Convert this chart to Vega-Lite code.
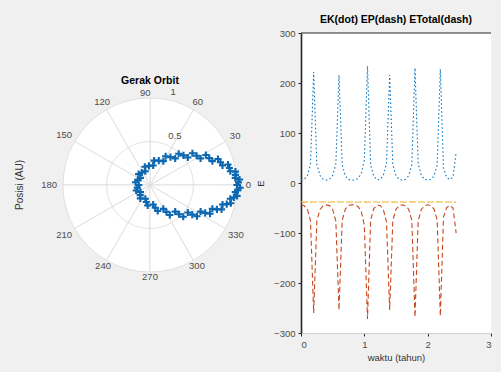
{
  "$schema": "https://vega.github.io/schema/vega-lite/v6.json",
  "background": "#f0f0f0",
  "padding": {"left": 0, "top": 14, "right": 9, "bottom": 10},
  "spacing": 1,
  "bounds": "flush",
  "config": {
    "view": {"stroke": null},
    "font": "Liberation Sans",
    "axis": {"labelFont": "Liberation Sans", "titleFont": "Liberation Sans", "labelColor": "#4d4d4d", "titleColor": "#333333", "labelFontSize": 9.5, "titleFontSize": 9.5, "titleFontWeight": "normal"}
  },
  "datasets": {
    "energy": [
      {"t": 0, "EK": 5.6, "EP": -43.6, "ET": -38},
      {"t": 0.05, "EK": 7.4, "EP": -45.6, "ET": -38.2},
      {"t": 0.1, "EK": 14.5, "EP": -52.3, "ET": -37.8},
      {"t": 0.15, "EK": 37.6, "EP": -75.8, "ET": -38.2},
      {"t": 0.2, "EK": 222, "EP": -260, "ET": -38},
      {"t": 0.25, "EK": 38, "EP": -76.1, "ET": -38.1},
      {"t": 0.3, "EK": 15, "EP": -52.9, "ET": -37.9},
      {"t": 0.35, "EK": 7.5, "EP": -45.5, "ET": -38},
      {"t": 0.4, "EK": 5.6, "EP": -43.7, "ET": -38.1},
      {"t": 0.45, "EK": 7.3, "EP": -45.2, "ET": -37.9},
      {"t": 0.5, "EK": 14.8, "EP": -52.8, "ET": -38},
      {"t": 0.55, "EK": 38, "EP": -76.2, "ET": -38.2},
      {"t": 0.6, "EK": 216, "EP": -254, "ET": -38},
      {"t": 0.65, "EK": 37, "EP": -74.9, "ET": -37.9},
      {"t": 0.7, "EK": 14, "EP": -52.1, "ET": -38.1},
      {"t": 0.75, "EK": 7, "EP": -45, "ET": -38},
      {"t": 0.8, "EK": 5.5, "EP": -43.5, "ET": -38},
      {"t": 0.85, "EK": 6, "EP": -44.1, "ET": -38.1},
      {"t": 0.9, "EK": 9, "EP": -46.9, "ET": -37.9},
      {"t": 0.95, "EK": 18, "EP": -56, "ET": -38},
      {"t": 1.0, "EK": 46, "EP": -84.2, "ET": -38.2},
      {"t": 1.05, "EK": 234, "EP": -272, "ET": -38},
      {"t": 1.1, "EK": 36, "EP": -73.9, "ET": -37.9},
      {"t": 1.15, "EK": 13, "EP": -51.1, "ET": -38.1},
      {"t": 1.2, "EK": 6.5, "EP": -44.5, "ET": -38},
      {"t": 1.25, "EK": 7, "EP": -45, "ET": -38},
      {"t": 1.3, "EK": 15, "EP": -53.1, "ET": -38.1},
      {"t": 1.35, "EK": 40, "EP": -77.9, "ET": -37.9},
      {"t": 1.4, "EK": 216, "EP": -254, "ET": -38},
      {"t": 1.45, "EK": 37, "EP": -75.2, "ET": -38.2},
      {"t": 1.5, "EK": 14.5, "EP": -52.5, "ET": -38},
      {"t": 1.55, "EK": 7.4, "EP": -45.3, "ET": -37.9},
      {"t": 1.6, "EK": 5.6, "EP": -43.6, "ET": -38},
      {"t": 1.65, "EK": 7.4, "EP": -45.5, "ET": -38.1},
      {"t": 1.7, "EK": 14.5, "EP": -52.5, "ET": -38},
      {"t": 1.75, "EK": 37, "EP": -74.8, "ET": -37.8},
      {"t": 1.8, "EK": 230, "EP": -268, "ET": -38},
      {"t": 1.85, "EK": 38, "EP": -76.1, "ET": -38.1},
      {"t": 1.9, "EK": 15, "EP": -52.9, "ET": -37.9},
      {"t": 1.95, "EK": 7.5, "EP": -45.5, "ET": -38},
      {"t": 2.0, "EK": 5.6, "EP": -43.6, "ET": -38},
      {"t": 2.05, "EK": 7.2, "EP": -45.3, "ET": -38.1},
      {"t": 2.1, "EK": 14, "EP": -52, "ET": -38},
      {"t": 2.15, "EK": 36, "EP": -73.8, "ET": -37.8},
      {"t": 2.2, "EK": 228, "EP": -266, "ET": -38},
      {"t": 2.25, "EK": 30, "EP": -68.1, "ET": -38.1},
      {"t": 2.3, "EK": 11, "EP": -49, "ET": -38},
      {"t": 2.35, "EK": 7, "EP": -44.9, "ET": -37.9},
      {"t": 2.4, "EK": 12, "EP": -50, "ET": -38},
      {"t": 2.45, "EK": 62, "EP": -100.2, "ET": -38.2}
    ],
    "orbit": [
      {"x": 1.01, "y": 0}, {"x": 0.991, "y": 0.083}, {"x": 0.934, "y": 0.16}, {"x": 0.843, "y": 0.226},
      {"x": 0.725, "y": 0.277}, {"x": 0.588, "y": 0.309}, {"x": 0.44, "y": 0.32}, {"x": 0.293, "y": 0.309},
      {"x": 0.155, "y": 0.277}, {"x": 0.037, "y": 0.226}, {"x": -0.054, "y": 0.16}, {"x": -0.111, "y": 0.083},
      {"x": -0.13, "y": 0}, {"x": -0.111, "y": -0.083}, {"x": -0.054, "y": -0.16}, {"x": 0.037, "y": -0.226},
      {"x": 0.155, "y": -0.277}, {"x": 0.293, "y": -0.309}, {"x": 0.44, "y": -0.32}, {"x": 0.588, "y": -0.309},
      {"x": 0.725, "y": -0.277}, {"x": 0.843, "y": -0.226}, {"x": 0.934, "y": -0.16}, {"x": 0.991, "y": -0.083},
      {"x": 1.028, "y": 0.03}, {"x": 0.994, "y": 0.118}, {"x": 0.923, "y": 0.198}, {"x": 0.819, "y": 0.264},
      {"x": 0.689, "y": 0.313}, {"x": 0.542, "y": 0.34}, {"x": 0.389, "y": 0.344}, {"x": 0.238, "y": 0.324},
      {"x": 0.102, "y": 0.283}, {"x": -0.012, "y": 0.222}, {"x": -0.095, "y": 0.146}, {"x": -0.141, "y": 0.06},
      {"x": -0.148, "y": -0.03}, {"x": -0.114, "y": -0.118}, {"x": -0.043, "y": -0.198}, {"x": 0.061, "y": -0.264},
      {"x": 0.191, "y": -0.313}, {"x": 0.338, "y": -0.34}, {"x": 0.491, "y": -0.344}, {"x": 0.642, "y": -0.324},
      {"x": 0.778, "y": -0.283}, {"x": 0.892, "y": -0.222}, {"x": 0.975, "y": -0.146}, {"x": 1.021, "y": -0.06},
      {"x": 1.041, "y": 0.064}, {"x": 0.993, "y": 0.156}, {"x": 0.907, "y": 0.238}, {"x": 0.79, "y": 0.303},
      {"x": 0.649, "y": 0.348}, {"x": 0.493, "y": 0.369}, {"x": 0.334, "y": 0.364}, {"x": 0.182, "y": 0.335},
      {"x": 0.048, "y": 0.283}, {"x": -0.06, "y": 0.212}, {"x": -0.133, "y": 0.127}, {"x": -0.168, "y": 0.032},
      {"x": -0.161, "y": -0.064}, {"x": -0.113, "y": -0.156}, {"x": -0.027, "y": -0.238}, {"x": 0.09, "y": -0.303},
      {"x": 0.231, "y": -0.348}, {"x": 0.387, "y": -0.369}, {"x": 0.546, "y": -0.364}, {"x": 0.698, "y": -0.335},
      {"x": 0.832, "y": -0.283}, {"x": 0.94, "y": -0.212}, {"x": 1.013, "y": -0.127}, {"x": 1.048, "y": -0.032}
    ]
  },
  "hconcat": [
    {
      "width": 300,
      "height": 304,
      "view": {"stroke": null},
      "layer": [
        {
          "data": {"values": [
            {"a0": 0, "a1": 30, "r": 1}, {"a0": 30, "a1": 60, "r": 1}, {"a0": 60, "a1": 90, "r": 1},
            {"a0": 90, "a1": 120, "r": 1}, {"a0": 120, "a1": 150, "r": 1}, {"a0": 150, "a1": 180, "r": 1},
            {"a0": 180, "a1": 210, "r": 1}, {"a0": 210, "a1": 240, "r": 1}, {"a0": 240, "a1": 270, "r": 1},
            {"a0": 270, "a1": 300, "r": 1}, {"a0": 300, "a1": 330, "r": 1}, {"a0": 330, "a1": 360, "r": 1}
          ]},
          "mark": {"type": "arc", "fill": "white", "stroke": "#dadada", "strokeWidth": 0.8},
          "encoding": {
            "theta": {"field": "a0", "type": "quantitative", "stack": null, "scale": {"domain": [0, 360], "range": [1.5708, -4.7124]}},
            "theta2": {"field": "a1"},
            "radius": {"field": "r", "type": "quantitative", "scale": {"type": "linear", "domain": [0, 1], "range": [0, 87], "zero": true}}
          }
        },
        {
          "data": {"values": [{"a0": 0, "a1": 360, "r": 0.5}]},
          "mark": {"type": "arc", "fillOpacity": 0, "fill": "white", "stroke": "#dadada", "strokeWidth": 0.8},
          "encoding": {
            "theta": {"field": "a0", "type": "quantitative", "stack": null, "scale": {"domain": [0, 360], "range": [1.5708, -4.7124]}},
            "theta2": {"field": "a1"},
            "radius": {"field": "r", "type": "quantitative", "scale": {"type": "linear", "domain": [0, 1], "range": [0, 87], "zero": true}}
          }
        },
        {
          "data": {"name": "orbit"},
          "mark": {"type": "point", "shape": "M-1,0L1,0M0,-1L0,1", "filled": false, "stroke": "#0d67b0", "strokeWidth": 2.1, "size": 50, "opacity": 1},
          "encoding": {
            "x": {"field": "x", "type": "quantitative", "axis": null, "scale": {"domain": [-1.744, 1.744], "nice": false, "zero": false}},
            "y": {"field": "y", "type": "quantitative", "axis": null, "scale": {"domain": [-1.767, 1.767], "nice": false, "zero": false}}
          }
        },
        {
          "data": {"values": [
            {"txt": "0", "a": 0, "r": 1.13}, {"txt": "30", "a": 30, "r": 1.13}, {"txt": "60", "a": 60, "r": 1.1},
            {"txt": "90", "a": 93, "r": 1.06}, {"txt": "120", "a": 120, "r": 1.1}, {"txt": "150", "a": 150, "r": 1.14},
            {"txt": "180", "a": 180, "r": 1.16}, {"txt": "210", "a": 210, "r": 1.14}, {"txt": "240", "a": 240, "r": 1.08},
            {"txt": "270", "a": 270, "r": 1.06}, {"txt": "300", "a": 300, "r": 1.08}, {"txt": "330", "a": 330, "r": 1.14},
            {"txt": "0.5", "a": 63, "r": 0.63}, {"txt": "1", "a": 76, "r": 1.1}
          ]},
          "mark": {"type": "text", "fontSize": 9.5, "color": "#4d4d4d", "align": "center", "baseline": "middle"},
          "encoding": {
            "text": {"field": "txt"},
            "theta": {"field": "a", "type": "quantitative", "stack": null, "scale": {"domain": [0, 360], "range": [1.5708, -4.7124]}},
            "radius": {"field": "r", "type": "quantitative", "scale": {"type": "linear", "domain": [0, 1], "range": [0, 87], "zero": true}}
          }
        },
        {
          "data": {"values": [{"txt": "Gerak Orbit", "a": 90, "r": 1.2}]},
          "mark": {"type": "text", "fontSize": 10.5, "fontWeight": "bold", "color": "#000000", "align": "center", "baseline": "middle"},
          "encoding": {
            "text": {"field": "txt"},
            "theta": {"field": "a", "type": "quantitative", "stack": null, "scale": {"domain": [0, 360], "range": [1.5708, -4.7124]}},
            "radius": {"field": "r", "type": "quantitative", "scale": {"type": "linear", "domain": [0, 1], "range": [0, 87], "zero": true}}
          }
        },
        {
          "data": {"values": [{"txt": "Posisi (AU)", "a": 180, "r": 1.5}]},
          "mark": {"type": "text", "fontSize": 10, "color": "#333333", "angle": 270, "align": "center", "baseline": "middle"},
          "encoding": {
            "text": {"field": "txt"},
            "theta": {"field": "a", "type": "quantitative", "stack": null, "scale": {"domain": [0, 360], "range": [1.5708, -4.7124]}},
            "radius": {"field": "r", "type": "quantitative", "scale": {"type": "linear", "domain": [0, 1], "range": [0, 87], "zero": true}}
          }
        }
      ]
    },
    {
      "width": 190,
      "height": 300,
      "view": {"fill": "white", "stroke": null},
      "title": {"text": "EK(dot) EP(dash) ETotal(dash)", "fontSize": 10.5, "fontWeight": "bold", "color": "#000000", "offset": 3, "font": "Liberation Sans"},
      "layer": [
        {
          "data": {"name": "energy"},
          "transform": [{"fold": ["EK", "EP", "ET"], "as": ["series", "value"]}],
          "mark": {"type": "line", "strokeWidth": 1.1},
          "encoding": {
            "x": {"field": "t", "type": "quantitative", "title": "waktu (tahun)", "scale": {"domain": [0, 3], "nice": false}, "axis": {"values": [0, 1, 2, 3], "grid": false, "domainColor": "#d0d0d0", "tickColor": "#262626", "tickSize": 3, "labelPadding": 3, "titlePadding": 4}},
            "y": {"field": "value", "type": "quantitative", "title": "E", "scale": {"domain": [-300, 300], "nice": false}, "axis": {"values": [-300, -200, -100, 0, 100, 200, 300], "grid": false, "domainColor": "#262626", "domainWidth": 1.6, "tickColor": "#262626", "tickSize": 3, "labelPadding": 3, "titlePadding": 8}},
            "color": {"field": "series", "type": "nominal", "legend": null, "scale": {"domain": ["EK", "EP", "ET"], "range": ["#0072BD", "#C8471A", "#EDB120"]}},
            "strokeDash": {"field": "series", "type": "nominal", "legend": null, "scale": {"domain": ["EK", "EP", "ET"], "range": [[1.5, 2.5], [5, 3], [7, 2]]}}
          }
        },
        {
          "data": {"values": [{"v": 300}]},
          "mark": {"type": "rule", "color": "#262626", "strokeWidth": 1.2},
          "encoding": {"y": {"field": "v", "type": "quantitative"}}
        }
      ]
    }
  ]
}
